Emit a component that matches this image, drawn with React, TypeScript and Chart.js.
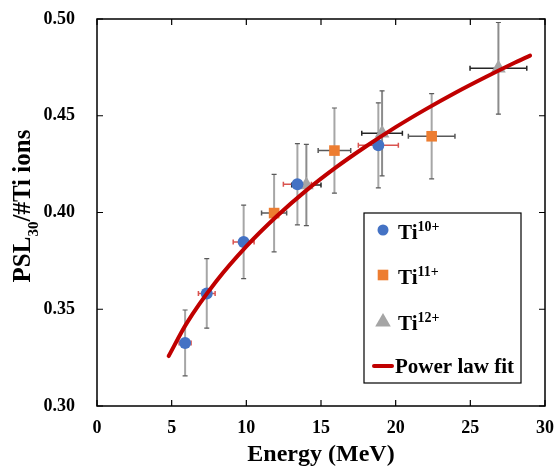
import React, { useEffect, useRef } from 'react';
import { Chart, registerables } from 'chart.js';

Chart.register(...registerables);

// ---- Data ----
const ti10Energy = [5.9, 7.35, 9.82, 13.42, 18.84];
const ti10Psl = [0.3326, 0.3582, 0.3848, 0.4146, 0.4347];
const ti10EnergyErr = [0.4, 0.56, 0.7, 0.94, 1.34];
const ti10PslErr = [0.017, 0.018, 0.019, 0.021, 0.022];

const ti11Energy = [11.86, 15.9, 22.41];
const ti11Psl = [0.3997, 0.432, 0.4394];
const ti11EnergyErr = [0.84, 1.09, 1.56];
const ti11PslErr = [0.02, 0.022, 0.022];

const ti12Energy = [14.02, 19.09, 26.88];
const ti12Psl = [0.4142, 0.4409, 0.4745];
const ti12EnergyErr = [0.98, 1.36, 1.9];
const ti12PslErr = [0.021, 0.022, 0.0237];

const fitEnergy = [4.8, 6, 8, 10, 12, 14, 16, 18, 20, 22, 24, 26, 28, 29];
const fitPsl = [0.3258, 0.3427, 0.3646, 0.3825, 0.3978, 0.4113, 0.4233, 0.4341, 0.4441, 0.4533, 0.4619, 0.4699, 0.4775, 0.4811];

const xTicks = [0, 5, 10, 15, 20, 25, 30];
const yTicks = [0.3, 0.35, 0.4, 0.45, 0.5];

const seriesCharges = ['10+', '11+', '12+'];
const fitLabel = 'Power law fit';
const xTitle = 'Energy (MeV)';
const yTitleMain = 'PSL';
const yTitleSub = '30';
const yTitleRest = '/#Ti ions';

const SERIF = '"Liberation Serif", "Times New Roman", serif';
const BLUE = '#4472C4';
const ORANGE = '#ED7D31';
const GRAY = '#A5A5A5';
const RED = '#C00000';

type Part = { text: string; size: number; dy?: number };

function drawRich(ctx: CanvasRenderingContext2D, parts: Part[], x: number, y: number) {
  let cx = x;
  for (const p of parts) {
    ctx.font = `bold ${p.size}px ${SERIF}`;
    ctx.fillText(p.text, cx, y + (p.dy || 0));
    cx += ctx.measureText(p.text).width;
  }
  return cx - x;
}
function measureRich(ctx: CanvasRenderingContext2D, parts: Part[]) {
  let w = 0;
  for (const p of parts) {
    ctx.font = `bold ${p.size}px ${SERIF}`;
    w += ctx.measureText(p.text).width;
  }
  return w;
}

function drawMarker(ctx: CanvasRenderingContext2D, style: string, x: number, y: number, r: number, color: string) {
  ctx.save();
  ctx.fillStyle = color;
  ctx.beginPath();
  if (style === 'circle') {
    ctx.arc(x, y, r, 0, Math.PI * 2);
  } else if (style === 'rect') {
    const s = r * Math.SQRT1_2;
    ctx.rect(x - s, y - s, 2 * s, 2 * s);
  } else {
    ctx.moveTo(x, y - r);
    ctx.lineTo(x + r * 0.866, y + r / 2);
    ctx.lineTo(x - r * 0.866, y + r / 2);
    ctx.closePath();
  }
  ctx.fill();
  ctx.restore();
}

const decorPlugin = {
  id: 'decor',
  beforeDatasetsDraw(chart: any) {
    const ctx: CanvasRenderingContext2D = chart.ctx;
    const xs = chart.scales.x;
    const ys = chart.scales.y;
    chart.data.datasets.forEach((ds: any) => {
      if (!ds.xErr) return;
      ds.data.forEach((pt: any, i: number) => {
        const px = xs.getPixelForValue(pt.x);
        const py = ys.getPixelForValue(pt.y);
        const yTop = ys.getPixelForValue(pt.y + ds.yErr[i]);
        const yBot = ys.getPixelForValue(pt.y - ds.yErr[i]);
        const xL = xs.getPixelForValue(pt.x - ds.xErr[i]);
        const xR = xs.getPixelForValue(pt.x + ds.xErr[i]);
        ctx.save();
        // vertical
        ctx.strokeStyle = ds.vColor;
        ctx.lineWidth = 2;
        ctx.beginPath();
        ctx.moveTo(px, yTop);
        ctx.lineTo(px, yBot);
        ctx.stroke();
        ctx.strokeStyle = '#5a5a5a';
        ctx.lineWidth = 1.2;
        ctx.beginPath();
        ctx.moveTo(px - 2.5, yTop);
        ctx.lineTo(px + 2.5, yTop);
        ctx.moveTo(px - 2.5, yBot);
        ctx.lineTo(px + 2.5, yBot);
        ctx.stroke();
        // horizontal
        ctx.strokeStyle = ds.hColor;
        ctx.lineWidth = 1.5;
        ctx.beginPath();
        ctx.moveTo(xL, py);
        ctx.lineTo(xR, py);
        ctx.moveTo(xL, py - 2.5);
        ctx.lineTo(xL, py + 2.5);
        ctx.moveTo(xR, py - 2.5);
        ctx.lineTo(xR, py + 2.5);
        ctx.stroke();
        ctx.restore();
      });
    });
  },
  afterDraw(chart: any) {
    const ctx: CanvasRenderingContext2D = chart.ctx;
    const { left, right, top, bottom } = chart.chartArea;
    const xs = chart.scales.x;
    const ys = chart.scales.y;
    ctx.save();
    // frame
    ctx.strokeStyle = '#000';
    ctx.lineWidth = 1.5;
    ctx.strokeRect(left, top, right - left, bottom - top);
    // inner ticks on all sides
    ctx.lineWidth = 1.2;
    ctx.beginPath();
    xTicks.forEach((v) => {
      const px = xs.getPixelForValue(v);
      ctx.moveTo(px, bottom);
      ctx.lineTo(px, bottom - 6);
      ctx.moveTo(px, top);
      ctx.lineTo(px, top + 6);
    });
    yTicks.forEach((v) => {
      const py = ys.getPixelForValue(v);
      ctx.moveTo(left, py);
      ctx.lineTo(left + 6, py);
      ctx.moveTo(right, py);
      ctx.lineTo(right - 6, py);
    });
    ctx.stroke();

    ctx.fillStyle = '#000';
    ctx.textBaseline = 'alphabetic';
    ctx.textAlign = 'left';
    // x title
    const xParts: Part[] = [{ text: xTitle, size: 24 }];
    const xw = measureRich(ctx, xParts);
    drawRich(ctx, xParts, (left + right) / 2 - xw / 2, 461);
    // y title (rotated)
    const yParts: Part[] = [
      { text: yTitleMain, size: 25 },
      { text: yTitleSub, size: 15, dy: 8 },
      { text: yTitleRest, size: 25 },
    ];
    const yw = measureRich(ctx, yParts);
    ctx.save();
    ctx.translate(30, 206);
    ctx.rotate(-Math.PI / 2);
    drawRich(ctx, yParts, -yw / 2, 0);
    ctx.restore();

    // legend
    const bx = 364, by = 213, bw = 157, bh = 170;
    ctx.fillStyle = '#fff';
    ctx.fillRect(bx, by, bw, bh);
    ctx.strokeStyle = '#000';
    ctx.lineWidth = 1.2;
    ctx.strokeRect(bx, by, bw, bh);
    const styles = ['circle', 'rect', 'triangle'];
    const colors = [BLUE, ORANGE, GRAY];
    const radii = [5.5, 7.5, 9];
    const markerY = [230, 275, 322];
    const baseY = [239, 284, 330];
    for (let i = 0; i < 3; i++) {
      drawMarker(ctx, styles[i], 383, markerY[i], radii[i], colors[i]);
      ctx.fillStyle = '#000';
      drawRich(ctx, [
        { text: 'Ti', size: 21 },
        { text: seriesCharges[i], size: 14, dy: -8 },
      ], 398, baseY[i]);
    }
    ctx.strokeStyle = RED;
    ctx.lineWidth = 4;
    ctx.lineCap = 'round';
    ctx.beginPath();
    ctx.moveTo(374, 366);
    ctx.lineTo(392, 366);
    ctx.stroke();
    ctx.fillStyle = '#000';
    drawRich(ctx, [{ text: fitLabel, size: 21 }], 395, 373);
    ctx.restore();
  },
};

export default function App() {
  const ref = useRef<HTMLCanvasElement | null>(null);
  useEffect(() => {
    if (!ref.current) return;
    const toPts = (xs: number[], ys: number[]) => xs.map((x, i) => ({ x, y: ys[i] }));
    const chart = new Chart(ref.current, {
      type: 'scatter',
      data: {
        datasets: [
          {
            label: fitLabel,
            data: toPts(fitEnergy, fitPsl),
            showLine: true,
            borderColor: RED,
            borderWidth: 4,
            pointRadius: 0,
            cubicInterpolationMode: 'monotone',
            borderCapStyle: 'round',
            order: 0,
          } as any,
          {
            label: 'Ti10+',
            data: toPts(ti10Energy, ti10Psl),
            pointStyle: 'circle',
            pointRadius: 6,
            backgroundColor: BLUE,
            borderColor: BLUE,
            borderWidth: 0,
            xErr: ti10EnergyErr,
            yErr: ti10PslErr,
            vColor: '#a6a6a6',
            hColor: '#d9534f',
            order: 1,
          } as any,
          {
            label: 'Ti11+',
            data: toPts(ti11Energy, ti11Psl),
            pointStyle: 'rect',
            pointRadius: 7.5,
            backgroundColor: ORANGE,
            borderColor: ORANGE,
            borderWidth: 0,
            xErr: ti11EnergyErr,
            yErr: ti11PslErr,
            vColor: '#a6a6a6',
            hColor: '#595959',
            order: 2,
          } as any,
          {
            label: 'Ti12+',
            data: toPts(ti12Energy, ti12Psl),
            pointStyle: 'triangle',
            pointRadius: 8.5,
            backgroundColor: GRAY,
            borderColor: GRAY,
            borderWidth: 0,
            xErr: ti12EnergyErr,
            yErr: ti12PslErr,
            vColor: '#8c8c8c',
            hColor: '#262626',
            order: 3,
          } as any,
        ],
      },
      options: {
        responsive: false,
        animation: false,
        devicePixelRatio: 1,
        layout: { padding: { top: 19, right: 12, left: 0, bottom: 0 } },
        plugins: { legend: { display: false }, tooltip: { enabled: false } },
        scales: {
          x: {
            type: 'linear',
            min: 0,
            max: 30,
            grid: { display: false, drawTicks: false },
            border: { display: false },
            afterBuildTicks: (axis: any) => {
              axis.ticks = xTicks.map((v) => ({ value: v }));
            },
            afterFit: (axis: any) => {
              axis.height = 66;
              axis.paddingLeft = 0;
              axis.paddingRight = 0;
              axis.paddingTop = 0;
              axis.paddingBottom = 0;
            },
            ticks: {
              color: '#000',
              font: { family: SERIF, size: 18, weight: 'bold' },
              padding: 12,
              maxRotation: 0,
              callback: (v: any) => String(v),
            },
          },
          y: {
            type: 'linear',
            min: 0.3,
            max: 0.5,
            grid: { display: false, drawTicks: false },
            border: { display: false },
            afterBuildTicks: (axis: any) => {
              axis.ticks = yTicks.map((v) => ({ value: v }));
            },
            afterFit: (axis: any) => {
              axis.width = 97;
              axis.paddingLeft = 0;
              axis.paddingRight = 0;
              axis.paddingTop = 0;
              axis.paddingBottom = 0;
            },
            ticks: {
              color: '#000',
              font: { family: SERIF, size: 18, weight: 'bold' },
              padding: 22,
              callback: (v: any) => Number(v).toFixed(2),
            },
          },
        },
      } as any,
      plugins: [decorPlugin],
    });
    return () => chart.destroy();
  }, []);
  return (
    <div style={{ position: 'absolute', left: 0, top: 0, width: 557, height: 472, background: '#fff' }}>
      <canvas ref={ref} width={557} height={472} />
    </div>
  );
}
